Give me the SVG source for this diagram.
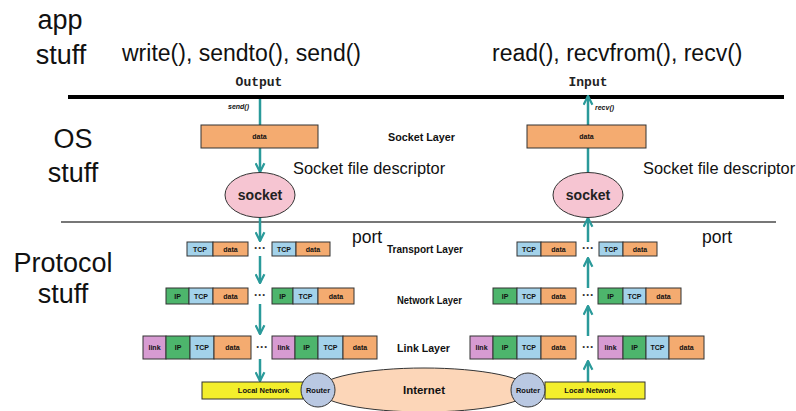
<svg xmlns="http://www.w3.org/2000/svg" width="796" height="411" viewBox="0 0 796 411">
<style>
.big{font-family:"Liberation Sans",Arial,sans-serif;font-size:27px;fill:#111;text-anchor:middle}
.fn{font-family:"Liberation Sans",Arial,sans-serif;font-size:23px;fill:#111}
.mid{font-family:"Liberation Sans",Arial,sans-serif;font-size:16.4px;fill:#111}
.port{font-family:"Liberation Sans",Arial,sans-serif;font-size:17.5px;fill:#111}
.mono{font-family:"Liberation Mono","Courier New",monospace;font-size:13px;font-weight:bold;fill:#222;text-anchor:middle}
.tiny{font-family:"Liberation Sans",Arial,sans-serif;font-size:7px;font-weight:bold;fill:#111;text-anchor:middle}
.lay{font-family:"Liberation Sans",Arial,sans-serif;font-size:10px;font-weight:bold;fill:#111}
.cap{font-family:"Liberation Sans",Arial,sans-serif;font-size:7px;font-weight:bold;font-style:italic;fill:#111}
.sock{font-family:"Liberation Sans",Arial,sans-serif;font-size:14px;font-weight:bold;fill:#222;text-anchor:middle}
.b{stroke:#333;stroke-width:1}
.data{fill:#f4ab70}
.tcp{fill:#a3d2ea}
.ip{fill:#4db56c}
.lnk{fill:#d79bd2}
.dots{font-family:"Liberation Sans",Arial,sans-serif;font-size:12px;font-weight:bold;fill:#333;text-anchor:middle}
.con{stroke:#2a9a9a;stroke-width:2.5;fill:none}
</style>
<defs>
<marker id="ah" viewBox="0 0 10 10" refX="9" refY="5" markerWidth="4.4" markerHeight="4.4" orient="auto" markerUnits="strokeWidth">
<path d="M1,1 L9,5 L1,9" fill="none" stroke="#2a9a9a" stroke-width="2"/>
</marker>
</defs>
<rect x="0" y="0" width="796" height="411" fill="#fff"/>

<!-- section labels -->
<g id="labels">
<text class="big" x="60" y="29">app</text>
<text class="big" x="61" y="64">stuff</text>
<text class="big" x="73" y="148">OS</text>
<text class="big" x="73" y="182">stuff</text>
<text class="big" x="63" y="272">Protocol</text>
<text class="big" x="63" y="303">stuff</text>
<text class="fn" x="122" y="61">write(), sendto(), send()</text>
<text class="fn" x="492" y="61">read(), recvfrom(), recv()</text>
<text class="mono" x="259" y="86">Output</text>
<text class="mono" x="588" y="86">Input</text>
<text class="cap" x="228" y="109">send()</text>
<text class="cap" x="595" y="110">recv()</text>
<text class="lay" x="388" y="141" textLength="67" lengthAdjust="spacingAndGlyphs">Socket Layer</text>
<text class="mid" x="293" y="174">Socket file descriptor</text>
<text class="mid" x="643" y="174">Socket file descriptor</text>
<text class="port" x="352" y="243">port</text>
<text class="port" x="702" y="243">port</text>
<text class="lay" x="387" y="253" textLength="76" lengthAdjust="spacingAndGlyphs">Transport Layer</text>
<text class="lay" x="397" y="304" textLength="65" lengthAdjust="spacingAndGlyphs">Network Layer</text>
<text class="lay" x="397" y="352" textLength="53" lengthAdjust="spacingAndGlyphs">Link Layer</text>
</g>

<!-- dividers -->
<line x1="68" y1="97" x2="784" y2="97" stroke="#000" stroke-width="4"/>
<line x1="61" y1="222" x2="776" y2="222" stroke="#777" stroke-width="2"/>

<!-- connectors -->
<g id="connectors">
<line class="con" x1="260" y1="99" x2="260" y2="125"/>
<line class="con" x1="260" y1="148" x2="260" y2="172" marker-end="url(#ah)"/>
<line class="con" x1="260" y1="217" x2="260" y2="241" marker-end="url(#ah)"/>
<line class="con" x1="260" y1="256" x2="260" y2="283" marker-end="url(#ah)"/>
<line class="con" x1="260" y1="304" x2="260" y2="334" marker-end="url(#ah)"/>
<line class="con" x1="260" y1="359" x2="260" y2="381" marker-end="url(#ah)"/>
<line class="con" x1="588" y1="382" x2="588" y2="361" marker-end="url(#ah)"/>
<line class="con" x1="588" y1="336" x2="588" y2="306" marker-end="url(#ah)"/>
<line class="con" x1="588" y1="288" x2="588" y2="258" marker-end="url(#ah)"/>
<line class="con" x1="588" y1="242" x2="588" y2="218" marker-end="url(#ah)"/>
<line class="con" x1="588" y1="172" x2="588" y2="148"/>
<line class="con" x1="588" y1="125" x2="588" y2="96" marker-end="url(#ah)"/>
</g>

<!-- socket layer -->
<g id="data-out">
<rect class="data b" x="201" y="125" width="117" height="23"/>
<text class="tiny" x="259.5" y="139">data</text>
</g>
<g id="data-in">
<rect class="data b" x="527" y="125" width="119" height="23"/>
<text class="tiny" x="586.5" y="139">data</text>
</g>
<g id="socket-out">
<ellipse cx="260" cy="195" rx="35" ry="22.5" fill="#f6c5d2" stroke="#333" stroke-width="1"/>
<text class="sock" x="260" y="200">socket</text>
</g>
<g id="socket-in">
<ellipse cx="588" cy="195" rx="35" ry="22.5" fill="#f6c5d2" stroke="#333" stroke-width="1"/>
<text class="sock" x="588" y="200">socket</text>
</g>

<!-- transport layer -->
<g id="transport-out">
<rect class="tcp b" x="187" y="242" width="26" height="14"/><text class="tiny" x="200" y="251.5">TCP</text>
<rect class="data b" x="213" y="242" width="35" height="14"/><text class="tiny" x="230.5" y="251.5">data</text>
<text class="dots" x="260" y="252">···</text>
<rect class="tcp b" x="272" y="242" width="24" height="14"/><text class="tiny" x="284" y="251.5">TCP</text>
<rect class="data b" x="296" y="242" width="34" height="14"/><text class="tiny" x="313" y="251.5">data</text>
</g>
<g id="transport-in">
<rect class="tcp b" x="517" y="242" width="24" height="14"/><text class="tiny" x="529" y="251.5">TCP</text>
<rect class="data b" x="541" y="242" width="35" height="14"/><text class="tiny" x="558.5" y="251.5">data</text>
<text class="dots" x="588" y="252">···</text>
<rect class="tcp b" x="599" y="242" width="24" height="14"/><text class="tiny" x="611" y="251.5">TCP</text>
<rect class="data b" x="623" y="242" width="34" height="14"/><text class="tiny" x="640" y="251.5">data</text>
</g>

<!-- network layer -->
<g id="network-out">
<rect class="ip b" x="166" y="288" width="23" height="16"/><text class="tiny" x="177.5" y="298.5">IP</text>
<rect class="tcp b" x="189" y="288" width="24" height="16"/><text class="tiny" x="201" y="298.5">TCP</text>
<rect class="data b" x="213" y="288" width="35" height="16"/><text class="tiny" x="230.5" y="298.5">data</text>
<text class="dots" x="260" y="299">···</text>
<rect class="ip b" x="272" y="288" width="21" height="16"/><text class="tiny" x="282.5" y="298.5">IP</text>
<rect class="tcp b" x="293" y="288" width="25" height="16"/><text class="tiny" x="305.5" y="298.5">TCP</text>
<rect class="data b" x="318" y="288" width="36" height="16"/><text class="tiny" x="336" y="298.5">data</text>
</g>
<g id="network-in">
<rect class="ip b" x="493" y="288" width="24" height="16"/><text class="tiny" x="505" y="298.5">IP</text>
<rect class="tcp b" x="517" y="288" width="24" height="16"/><text class="tiny" x="529" y="298.5">TCP</text>
<rect class="data b" x="541" y="288" width="35" height="16"/><text class="tiny" x="558.5" y="298.5">data</text>
<text class="dots" x="588" y="299">···</text>
<rect class="ip b" x="598" y="288" width="25" height="16"/><text class="tiny" x="610.5" y="298.5">IP</text>
<rect class="tcp b" x="623" y="288" width="23" height="16"/><text class="tiny" x="634.5" y="298.5">TCP</text>
<rect class="data b" x="646" y="288" width="35" height="16"/><text class="tiny" x="663.5" y="298.5">data</text>
</g>

<!-- link layer -->
<g id="link-out">
<rect class="lnk b" x="143" y="336" width="23" height="23"/><text class="tiny" x="154.5" y="350">link</text>
<rect class="ip b" x="166" y="336" width="24" height="23"/><text class="tiny" x="178" y="350">IP</text>
<rect class="tcp b" x="190" y="336" width="24" height="23"/><text class="tiny" x="202" y="350">TCP</text>
<rect class="data b" x="214" y="336" width="37" height="23"/><text class="tiny" x="232.5" y="350">data</text>
<text class="dots" x="262" y="351">···</text>
<rect class="lnk b" x="272" y="336" width="23" height="23"/><text class="tiny" x="283.5" y="350">link</text>
<rect class="ip b" x="295" y="336" width="23" height="23"/><text class="tiny" x="306.5" y="350">IP</text>
<rect class="tcp b" x="318" y="336" width="25" height="23"/><text class="tiny" x="330.5" y="350">TCP</text>
<rect class="data b" x="343" y="336" width="34" height="23"/><text class="tiny" x="360" y="350">data</text>
</g>
<g id="link-in">
<rect class="lnk b" x="470" y="336" width="23" height="23"/><text class="tiny" x="481.5" y="350">link</text>
<rect class="ip b" x="493" y="336" width="24" height="23"/><text class="tiny" x="505" y="350">IP</text>
<rect class="tcp b" x="517" y="336" width="24" height="23"/><text class="tiny" x="529" y="350">TCP</text>
<rect class="data b" x="541" y="336" width="35" height="23"/><text class="tiny" x="558.5" y="350">data</text>
<text class="dots" x="588" y="351">···</text>
<rect class="lnk b" x="598" y="336" width="25" height="23"/><text class="tiny" x="610.5" y="350">link</text>
<rect class="ip b" x="623" y="336" width="23" height="23"/><text class="tiny" x="634.5" y="350">IP</text>
<rect class="tcp b" x="646" y="336" width="23" height="23"/><text class="tiny" x="657.5" y="350">TCP</text>
<rect class="data b" x="669" y="336" width="35" height="23"/><text class="tiny" x="686.5" y="350">data</text>
</g>

<!-- physical -->
<g id="internet">
<ellipse cx="424" cy="390" rx="106" ry="22" fill="#fcd6b8" stroke="#333" stroke-width="1"/>
<text class="lay" x="403" y="394" textLength="42" lengthAdjust="spacingAndGlyphs" style="font-size:11px">Internet</text>
</g>
<g id="local-net-out">
<rect x="202" y="382" width="101" height="17" fill="#f3ee2c" stroke="#333" stroke-width="1"/>
<text class="tiny" x="263.5" y="393" style="font-size:7.5px">Local Network</text>
</g>
<g id="local-net-in">
<rect x="545" y="382" width="100" height="17" fill="#f3ee2c" stroke="#333" stroke-width="1"/>
<text class="tiny" x="590" y="393" style="font-size:7.5px">Local Network</text>
</g>
<g id="router-out">
<circle cx="318" cy="390" r="17" fill="#b9c8e2" stroke="#333" stroke-width="1"/>
<text class="tiny" x="318" y="393" style="font-size:7.5px">Router</text>
</g>
<g id="router-in">
<circle cx="528" cy="390" r="17" fill="#b9c8e2" stroke="#333" stroke-width="1"/>
<text class="tiny" x="528" y="393" style="font-size:7.5px">Router</text>
</g>
</svg>
